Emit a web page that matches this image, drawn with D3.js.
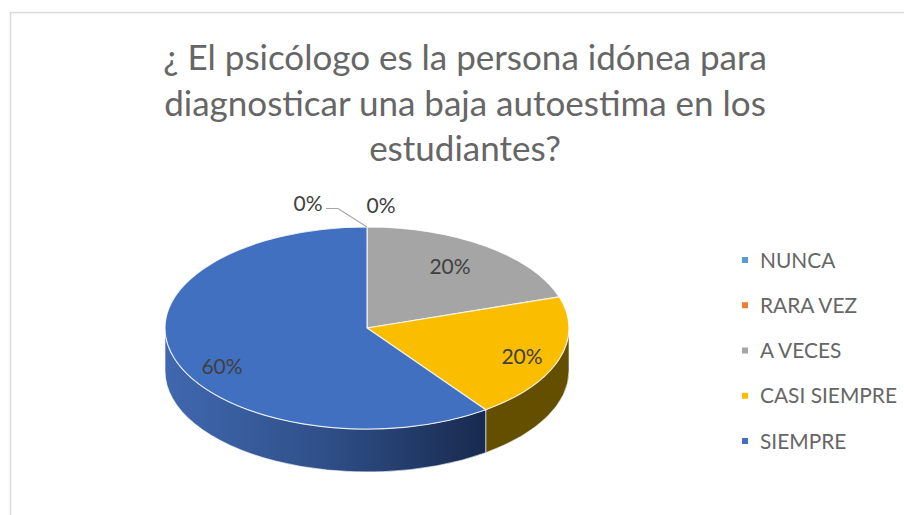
<!DOCTYPE html>
<html><head><meta charset="utf-8">
<script src="https://cdn.jsdelivr.net/npm/d3@7/dist/d3.min.js"></script>
<style>html,body{margin:0;padding:0;background:#fff;overflow:hidden}svg{display:block}
text{font-family:Lato,"Open Sans",sans-serif}</style></head>
<body><svg id="c" width="904" height="515"></svg>
<script>
const titleLines=["¿ El psicólogo es la persona idónea para","diagnosticar una baja autoestima en los","estudiantes?"];
const categories=["NUNCA","RARA VEZ","A VECES","CASI SIEMPRE","SIEMPRE"];
const values=[0,0,20,20,60];
const colors=["#5B9BD5","#ED7D31","#A5A5A5","#FBBD00","#4070BF"];
const sideColors=["#3A6186","#8A4A1D","#666666","#644E00","url(#blueSide)"];

const svg=d3.select("#c");
const cx=367,cy=328,rx=202,ry=101,depth=43;
const defs=svg.append("defs");
const g=defs.append("linearGradient").attr("id","blueSide").attr("gradientUnits","userSpaceOnUse")
 .attr("x1",cx-rx).attr("x2",cx+119).attr("y1",0).attr("y2",0);
[[0,"#4068b0"],[0.5,"#2f4f88"],[1,"#182a4f"]].forEach(s=>g.append("stop").attr("offset",s[0]).attr("stop-color",s[1]));

svg.append("rect").attr("x",10.5).attr("y",12.5).attr("width",1000).attr("height",600)
 .attr("fill","#fff").attr("stroke","#d9d9d9").attr("stroke-width",1.5);

svg.append("g").selectAll("text").data(titleLines).join("text")
 .attr("x",465).attr("y",(d,i)=>70+i*45.5).attr("text-anchor","middle")
 .attr("font-size",35).attr("fill","#666666").text(d=>d);

const arcs=d3.pie().sort(null).value(d=>d)(values);
const ex=a=>cx+rx*Math.sin(a), ey=a=>cy-ry*Math.cos(a);

const wall=(a0,a1)=>{
  const s=Math.max(a0,Math.PI/2),e=Math.min(a1,Math.PI*1.5);
  if(e<=s) return null;
  const large=(e-s)>Math.PI?1:0;
  return `M${ex(s)},${ey(s)}A${rx},${ry} 0 ${large} 1 ${ex(e)},${ey(e)}L${ex(e)},${ey(e)+depth}A${rx},${ry} 0 ${large} 0 ${ex(s)},${ey(s)+depth}Z`;
};
svg.append("g").selectAll("path").data(arcs).join("path")
 .attr("d",d=>wall(d.startAngle,d.endAngle)).attr("fill",(d,i)=>sideColors[i])
 .attr("stroke","#fff").attr("stroke-opacity",.6).attr("stroke-width",1);

const arc=d3.arc().innerRadius(0).outerRadius(rx);
svg.append("g").attr("transform",`translate(${cx},${cy}) scale(1,${ry/rx})`)
 .selectAll("path").data(arcs).join("path")
 .attr("d",arc).attr("fill",(d,i)=>colors[i])
 .attr("stroke","#fff").attr("stroke-opacity",.8).attr("stroke-width",1.2).attr("vector-effect","non-scaling-stroke");

const labelPos=[[308,204],[381,206],[450,267],[522,357],[222,367]];
svg.append("g").selectAll("text").data(values).join("text")
 .attr("x",(d,i)=>labelPos[i][0]).attr("y",(d,i)=>labelPos[i][1]).attr("dy","0.35em")
 .attr("text-anchor","middle").attr("font-size",21).attr("fill","#404040").text(d=>d+"%");
svg.append("path").attr("d",`M326,208.5H338L367,227`).attr("fill","none").attr("stroke","#a6a6a6").attr("stroke-width",1.2);

const ly=d3.scalePoint().domain(categories).range([260,441]);
const leg=svg.append("g").selectAll("g").data(categories).join("g").attr("transform",d=>`translate(742,${ly(d)})`);
leg.append("rect").attr("x",0).attr("y",-3).attr("width",6).attr("height",6).attr("fill",(d,i)=>colors[i]);
leg.append("text").attr("x",18).attr("dy","0.36em").attr("font-size",20.9).attr("fill","#666666").text(d=>d);
</script></body></html>
